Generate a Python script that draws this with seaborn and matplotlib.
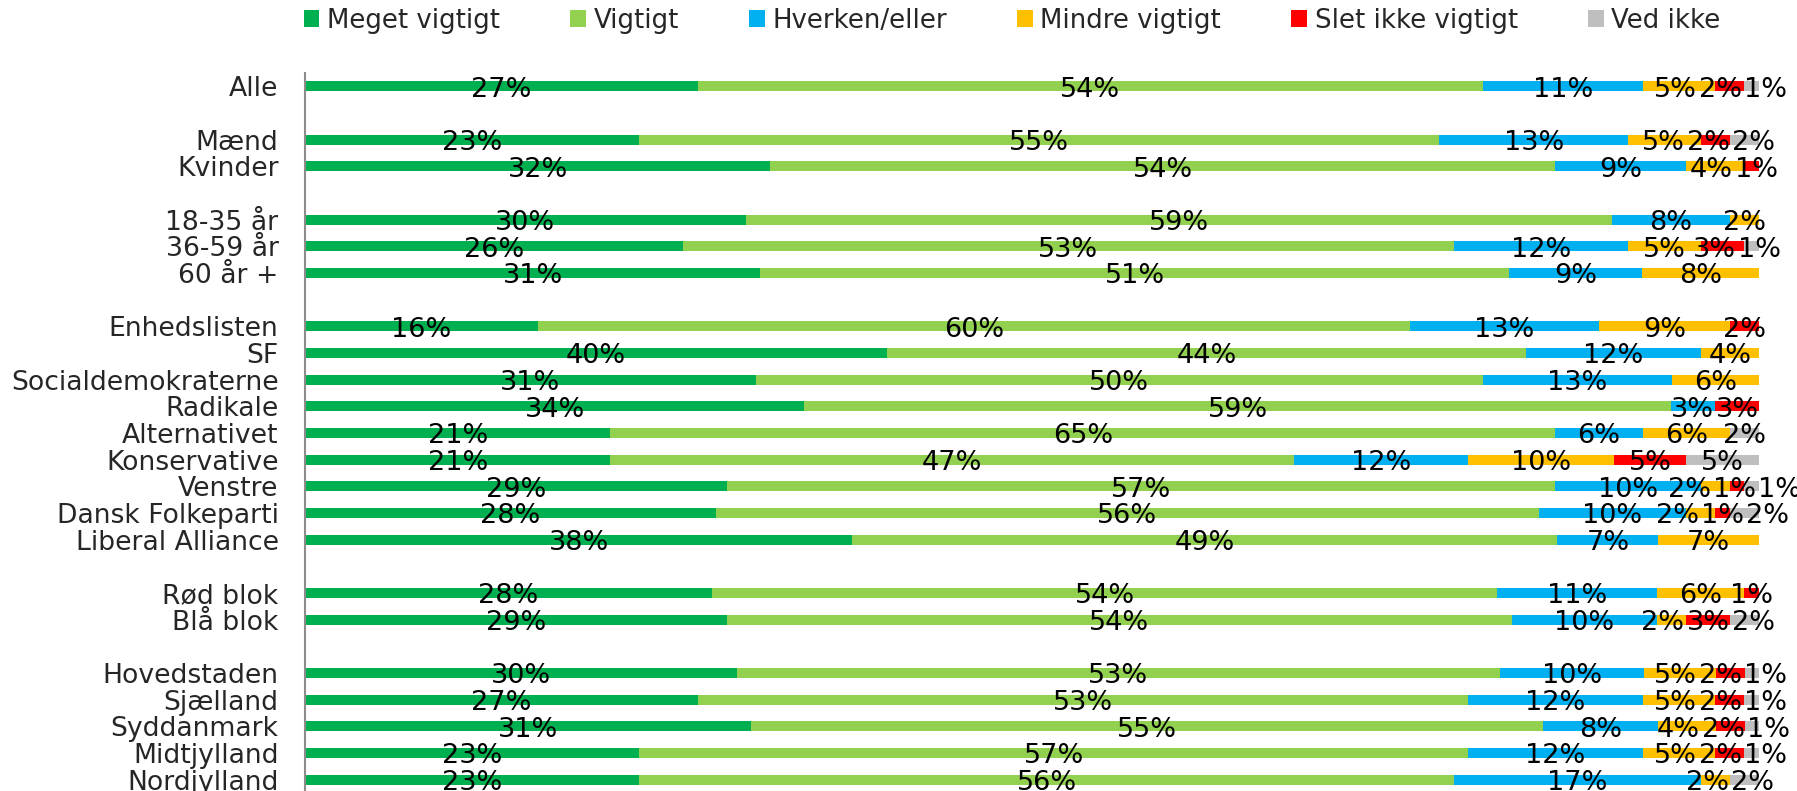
import matplotlib
matplotlib.use("Agg")
import matplotlib.pyplot as plt
from matplotlib.patches import Patch
from matplotlib.ticker import FixedLocator
import seaborn as sns
import numpy as np
import pandas as pd

# rows, grouped; an empty row is left between the groups
categories = ["Alle",
              "Mænd", "Kvinder",
              "18-35 år", "36-59 år", "60 år +",
              "Enhedslisten", "SF", "Socialdemokraterne", "Radikale", "Alternativet",
              "Konservative", "Venstre", "Dansk Folkeparti", "Liberal Alliance",
              "Rød blok", "Blå blok",
              "Hovedstaden", "Sjælland", "Syddanmark", "Midtjylland", "Nordjylland"]
group_sizes = [1, 2, 3, 9, 2, 5]

series_names = ["Meget vigtigt", "Vigtigt", "Hverken/eller",
                "Mindre vigtigt", "Slet ikke vigtigt", "Ved ikke"]
meget_vigtigt = [27, 23, 32, 30, 26, 31, 16, 40, 31, 34, 21, 21, 29, 28, 38, 28, 29, 30, 27, 31, 23, 23]
vigtigt       = [54, 55, 54, 59, 53, 51, 60, 44, 50, 59, 65, 47, 57, 56, 49, 54, 54, 53, 53, 55, 57, 56]
hverken_eller = [11, 13, 9, 8, 12, 9, 13, 12, 13, 3, 6, 12, 10, 10, 7, 11, 10, 10, 12, 8, 12, 17]
mindre_vigtigt = [5, 5, 4, 2, 5, 8, 9, 4, 6, 0, 6, 10, 2, 2, 7, 6, 2, 5, 5, 4, 5, 2]
slet_ikke     = [2, 2, 1, 0, 3, 0, 2, 0, 0, 3, 0, 5, 1, 1, 0, 1, 3, 2, 2, 2, 2, 0]
ved_ikke      = [1, 2, 0, 0, 1, 0, 0, 0, 0, 0, 2, 5, 1, 2, 0, 0, 2, 1, 1, 1, 1, 2]

colors = ["#00B050", "#92D050", "#00B0F0", "#FFC000", "#FF0000", "#BFBFBF"]

sns.set_style("white")
plt.rcParams["font.family"] = ["DejaVu Sans"]

# build row order with spacer rows between groups
row_keys, row_labels, data_keys = [], [], []
i = 0
for g, size in enumerate(group_sizes):
    if g > 0:
        row_keys.append(" " * (g + 1) + "_blank")
        row_labels.append("")
    for name in categories[i:i + size]:
        row_keys.append(name)
        row_labels.append(name)
        data_keys.append(name)
    i += size
n_rows = len(row_keys)

values = np.array([meget_vigtigt, vigtigt, hverken_eller,
                   mindre_vigtigt, slet_ikke, ved_ikke], dtype=float)
shares = values / values.sum(axis=0) * 100     # 100 % stacked, like the original
cum = np.cumsum(shares, axis=0)

fig, ax = plt.subplots(figsize=(17.97, 7.91), dpi=100)
ax.set_position([305 / 1797, -0.0025, 1454 / 1797, 0.91024])

# stacked bars: draw cumulative totals from last series to first
for k in range(len(series_names) - 1, -1, -1):
    df = pd.DataFrame({"row": data_keys, "total": cum[k]})
    sns.barplot(data=df, x="total", y="row", order=row_keys, orient="h",
                color=colors[k], saturation=1, width=0.375, linewidth=0,
                errorbar=None, ax=ax)

ax.set_xlim(0, 100)
ax.set_ylim(n_rows - 0.5, -0.5)

# data labels, centred on their segment
row_pos = {key: n for n, key in enumerate(row_keys)}
row_texts = {name: [] for name in data_keys}
for k in range(len(series_names)):
    for j, name in enumerate(data_keys):
        v = values[k, j]
        if v <= 0:
            continue
        xc = cum[k, j] - shares[k, j] / 2
        t = ax.text(xc, row_pos[name] + 0.12, f"{int(v)}%", ha="center", va="center",
                    fontsize=19.5, color="black")
        row_texts[name].append(t)

# push crowded labels apart so they only touch, as in the original
fig.canvas.draw()
renderer = fig.canvas.get_renderer()
px_per_unit = ax.get_window_extent().width / 100
for name, texts in row_texts.items():
    xs = np.array([t.get_position()[0] for t in texts])
    ws = np.array([t.get_window_extent(renderer).width / px_per_unit * 1.05 for t in texts])
    for _ in range(80):
        for a in range(len(xs) - 1):
            overlap = (xs[a] + ws[a] / 2) - (xs[a + 1] - ws[a + 1] / 2)
            if overlap > 0:
                xs[a] -= overlap / 2
                xs[a + 1] += overlap / 2
    for t, x in zip(texts, xs):
        t.set_x(x)

ax.set_xlabel("")
ax.set_ylabel("")
ax.set_xticks([])
ax.set_yticks(range(n_rows))
ax.set_yticklabels(row_labels, fontsize=19.2)
ax.yaxis.set_minor_locator(FixedLocator(np.arange(-0.5, n_rows, 1.0)))
ax.tick_params(axis="y", which="major", length=0, pad=19)
ax.tick_params(axis="y", which="minor", length=9, width=1.5, color="#8C8C8C")
for side in ["top", "right", "bottom"]:
    ax.spines[side].set_visible(False)
ax.spines["left"].set_color("#8C8C8C")
ax.spines["left"].set_linewidth(1.5)

handles = [Patch(facecolor=c, edgecolor="none", label=s) for c, s in zip(colors, series_names)]
fig.legend(handles=handles, loc="center", bbox_to_anchor=(0.5632, 0.974), ncol=6,
           frameon=False, fontsize=18.7, handlelength=0.6, handleheight=0.6,
           handletextpad=0.3, columnspacing=2.7, borderaxespad=0)

fig.savefig("out.png", dpi=100)
